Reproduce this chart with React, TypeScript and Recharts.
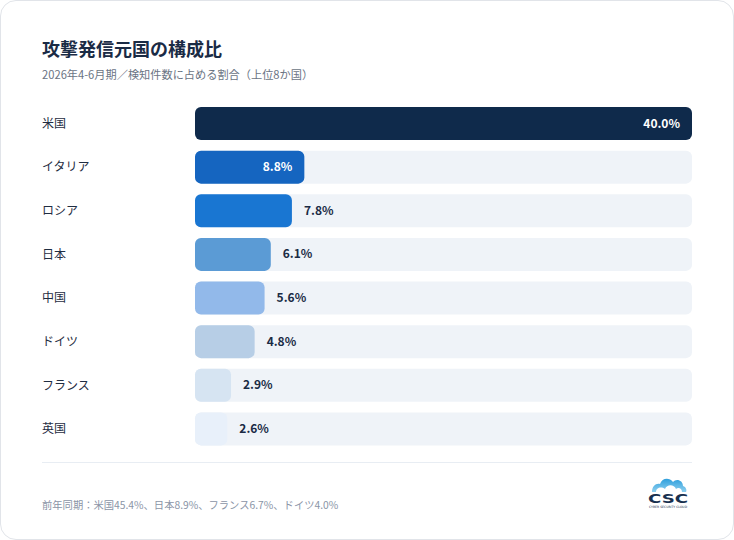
import { Bar, BarChart, Cell, LabelList, XAxis, YAxis } from "recharts";

const countries = ["米国", "イタリア", "ロシア", "日本", "中国", "ドイツ", "フランス", "英国"];
const shares = [40.0, 8.8, 7.8, 6.1, 5.6, 4.8, 2.9, 2.6];
const barColors = ["#0f2a4b", "#1565c0", "#1976d2", "#5b9bd5", "#92b9ea", "#b7cee6", "#d6e4f2", "#e8f0fa"];
const xTicks = [0, 10, 20, 30, 40];

const title = "攻撃発信元国の構成比";
const subtitle = "2026年4-6月期／検知件数に占める割合（上位8か国）";
const footnote = "前年同期：米国45.4%、日本8.9%、フランス6.7%、ドイツ4.0%";

const data = countries.map((name, i) => ({ name, share: shares[i] }));

const FONT = '"Noto Sans CJK JP", "Noto Sans", sans-serif';

const CountryTick = (props: any) => {
  const { y, payload } = props;
  return (
    <text x={42} y={y} dy={4} textAnchor="start" fontSize={12} fill="#1f2d42" fontFamily={FONT}>
      {payload.value}
    </text>
  );
};

const ValueLabel = (props: any) => {
  const { x, y, width, height, value } = props;
  const inside = value >= 8;
  const tx = inside ? x + width - 12 : x + width + 12;
  return (
    <text
      x={tx}
      y={y + height / 2}
      dy={4}
      textAnchor={inside ? "end" : "start"}
      fontSize={12}
      fontWeight={700}
      fill={inside ? "#ffffff" : "#1a2b45"}
      fontFamily={FONT}
    >
      {value.toFixed(1)}%
    </text>
  );
};

const Logo = () => (
  <svg width={44} height={36} viewBox="0 0 44 36" style={{ position: "absolute", left: 646, top: 474 }}>
    <defs>
      <linearGradient id="cloud" x1="0" y1="0" x2="0" y2="1">
        <stop offset="0%" stopColor="#2f9fdc" />
        <stop offset="100%" stopColor="#8fd0f0" />
      </linearGradient>
    </defs>
    <path
      d="M6 18 C6 12 10 9 14 10 C16 4 23 3 27 8 C30 4 37 6 37 12 C40 13 41 16 40 18 L36 18 C36 14 32 13 30 15 C28 10 21 10 19 15 C15 12 10 14 10 18 Z"
      fill="url(#cloud)"
    />
    <text
      x={2}
      y={29}
      fontSize={12}
      fontWeight={900}
      fill="#18304f"
      fontFamily="DejaVu Sans"
      textLength={40}
      lengthAdjust="spacingAndGlyphs"
    >
      CSC
    </text>
    <text
      x={3}
      y={33.5}
      fontSize={3}
      fill="#18304f"
      fontFamily="DejaVu Sans"
      textLength={38}
      lengthAdjust="spacingAndGlyphs"
    >
      CYBER SECURITY CLOUD
    </text>
  </svg>
);

export default function App() {
  return (
    <div
      style={{
        position: "absolute",
        left: 0,
        top: 0,
        width: 734,
        height: 540,
        background: "#ffffff",
        fontFamily: FONT,
      }}
    >
      <div
        style={{
          position: "absolute",
          left: 0,
          top: 0,
          width: 732,
          height: 538,
          border: "1px solid #e1e4e9",
          borderRadius: 16,
          background: "#ffffff",
        }}
      />
      <div style={{ position: "absolute", left: 42, top: 35, fontSize: 18, fontWeight: 700, color: "#1a2b45", lineHeight: "26px" }}>
        {title}
      </div>
      <div style={{ position: "absolute", left: 42, top: 65, fontSize: 11.2, color: "#6b7484", lineHeight: "18px" }}>
        {subtitle}
      </div>
      <div style={{ position: "absolute", left: 0, top: 102 }}>
        <BarChart
          width={734}
          height={349}
          data={data}
          layout="vertical"
          margin={{ top: 0, right: 42, bottom: 0, left: 0 }}
        >
          <XAxis type="number" domain={[0, 40]} ticks={xTicks} hide />
          <YAxis
            type="category"
            dataKey="name"
            width={195}
            axisLine={false}
            tickLine={false}
            tick={<CountryTick />}
          />
          <Bar
            dataKey="share"
            barSize={33}
            radius={6}
            background={{ fill: "#eff3f8", radius: 6 } as any}
            isAnimationActive={false}
          >
            {data.map((d, i) => (
              <Cell key={d.name} fill={barColors[i]} />
            ))}
            <LabelList dataKey="share" content={<ValueLabel />} />
          </Bar>
        </BarChart>
      </div>
      <div style={{ position: "absolute", left: 42, top: 462, width: 650, height: 1, background: "#e8edf3" }} />
      <div style={{ position: "absolute", left: 42, top: 497, fontSize: 10.3, color: "#8a94a6", lineHeight: "16px" }}>
        {footnote}
      </div>
      <Logo />
    </div>
  );
}
